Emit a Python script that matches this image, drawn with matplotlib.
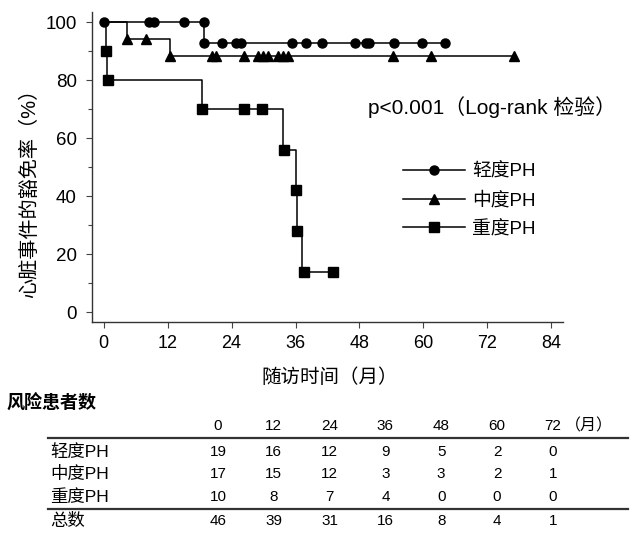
import matplotlib
matplotlib.use("Agg")
import matplotlib.pyplot as plt
from matplotlib.lines import Line2D
from matplotlib import font_manager

plt.rcParams["font.family"] = ["Liberation Sans", "Noto Sans CJK SC", "DejaVu Sans"]
plt.rcParams["axes.unicode_minus"] = False

# 生存曲线(阶梯)数据: 时间(月), 生存率(%)
mild_t = [0, 18.8, 64.0]
mild_s = [100, 92.9, 92.9]
mod_t = [0, 4.4, 12.4, 77.0]
mod_s = [100, 94.1, 88.2, 88.2]
sev_t = [0, 0.4, 0.7, 18.4, 33.6, 36.1, 36.3, 37.3, 43.0]
sev_s = [100, 90, 80, 70, 56, 42, 28, 14, 14]

# 标记点
mild_mk_t = [0, 8.5, 9.4, 15.0, 18.8, 18.8, 22.2, 24.9, 25.8, 35.3, 38.0, 41.0,
             47.1, 49.2, 49.8, 54.5, 59.8, 64.0]
mild_mk_s = [100, 100, 100, 100, 100, 92.9, 92.9, 92.9, 92.9, 92.9, 92.9, 92.9,
             92.9, 92.9, 92.9, 92.9, 92.9, 92.9]
mod_mk_t = [4.4, 7.9, 12.4, 20.3, 21.0, 26.3, 29.0, 29.9, 30.8, 32.7, 33.6, 34.6,
            54.2, 61.5, 77.0]
mod_mk_s = [94.1, 94.1] + [88.2] * 13
sev_mk_t = [0.4, 0.8, 18.4, 26.3, 29.7, 33.8, 36.1, 36.3, 37.5, 43.0]
sev_mk_s = [90, 80, 70, 70, 70, 56, 42, 28, 14, 14]

groups = ["轻度PH", "中度PH", "重度PH"]
months = [0, 12, 24, 36, 48, 60, 72]
risk_mild = [19, 16, 12, 9, 5, 2, 0]
risk_mod = [17, 15, 12, 3, 3, 2, 1]
risk_sev = [10, 8, 7, 4, 0, 0, 0]
risk_total = [46, 39, 31, 16, 8, 4, 1]

# 表格数字用窄体字
names = {f.name for f in font_manager.fontManager.ttflist}
num_font = "Liberation Sans Narrow" if "Liberation Sans Narrow" in names else "Liberation Sans"

W, H = 633, 533
fig = plt.figure(figsize=(W / 100, H / 100), dpi=100, facecolor="white")
ax = fig.add_axes([92 / W, 1 - 322 / H, (563 - 92) / W, (322 - 12) / H])

ax.step(mild_t, mild_s, where="post", color="black", lw=1.1)
ax.step(mod_t, mod_s, where="post", color="black", lw=1.1)
ax.step(sev_t, sev_s, where="post", color="black", lw=1.1)
ax.plot(mild_mk_t, mild_mk_s, "o", color="black", ms=6.5, ls="none")
ax.plot(mod_mk_t, mod_mk_s, "^", color="black", ms=6.5, ls="none")
ax.plot(sev_mk_t, sev_mk_s, "s", color="black", ms=6.5, ls="none")

ax.set_xlim(-2.2, 86.2)
ax.set_ylim(-3.4, 103.5)
ax.set_xticks(range(0, 85, 12))
ax.set_yticks(range(0, 101, 20))
ax.set_yticks(range(10, 100, 20), minor=True)
ax.tick_params(axis="both", direction="out", length=4, width=0.8, color="#444444")
ax.tick_params(axis="x", pad=5, labelsize=13)
ax.tick_params(axis="y", pad=7, labelsize=13.5)
ax.tick_params(axis="y", which="minor", length=3, width=0.8, color="#444444")
for s in ["top", "right"]:
    ax.spines[s].set_visible(False)
for s in ["left", "bottom"]:
    ax.spines[s].set_color("#333333")
    ax.spines[s].set_linewidth(1)

ax.set_ylabel("心脏事件的豁免率（%）", fontsize=14.5)
ax.yaxis.set_label_coords(-0.113, 0.43)
ax.set_xlabel("随访时间（月）", fontsize=14)
ax.xaxis.set_label_coords(0.505, -0.148)

ax.text(368 / W, 1 - 107 / H, "p<0.001（Log-rank 检验）", transform=fig.transFigure,
        fontsize=15, va="center", ha="left")

handles = [Line2D([], [], color="black", lw=1.1, marker=m, ms=6.5) for m in ["o", "^", "s"]]
fig.legend(handles, groups, loc="upper left", bbox_to_anchor=(403 / W, 1 - 163 / H),
           frameon=False, fontsize=13.5, handlelength=3.3, handletextpad=0.4,
           labelspacing=0.6, borderpad=0, borderaxespad=0)

# 风险患者数表格
fig.text(6 / W, 1 - 404 / H, "风险患者数", fontsize=13, fontweight="bold", va="center")
col_x = [218 + 55.8 * i for i in range(len(months))]
row_y = [452, 474, 497, 521]
for x, m in zip(col_x, months):
    fig.text(x / W, 1 - 426 / H, str(m), fontsize=11, family=num_font,
             ha="center", va="center")
fig.text(565 / W, 1 - 426 / H, "（月）", fontsize=11.5, ha="left", va="center")
rows = [risk_mild, risk_mod, risk_sev, risk_total]
labels = groups + ["总数"]
for y, lab, vals in zip(row_y, labels, rows):
    fig.text(50 / W, 1 - y / H, lab, fontsize=12.5, ha="left", va="center")
    for x, v in zip(col_x, vals):
        fig.text(x / W, 1 - y / H, str(v), fontsize=11, family=num_font,
                 ha="center", va="center")
fig.add_artist(Line2D([48 / W, 628 / W], [1 - 437.5 / H] * 2, color="#333333", lw=1.6))
fig.add_artist(Line2D([48 / W, 628 / W], [1 - 509 / H] * 2, color="#333333", lw=1.6))

fig.savefig("out.png", dpi=100, facecolor="white")
